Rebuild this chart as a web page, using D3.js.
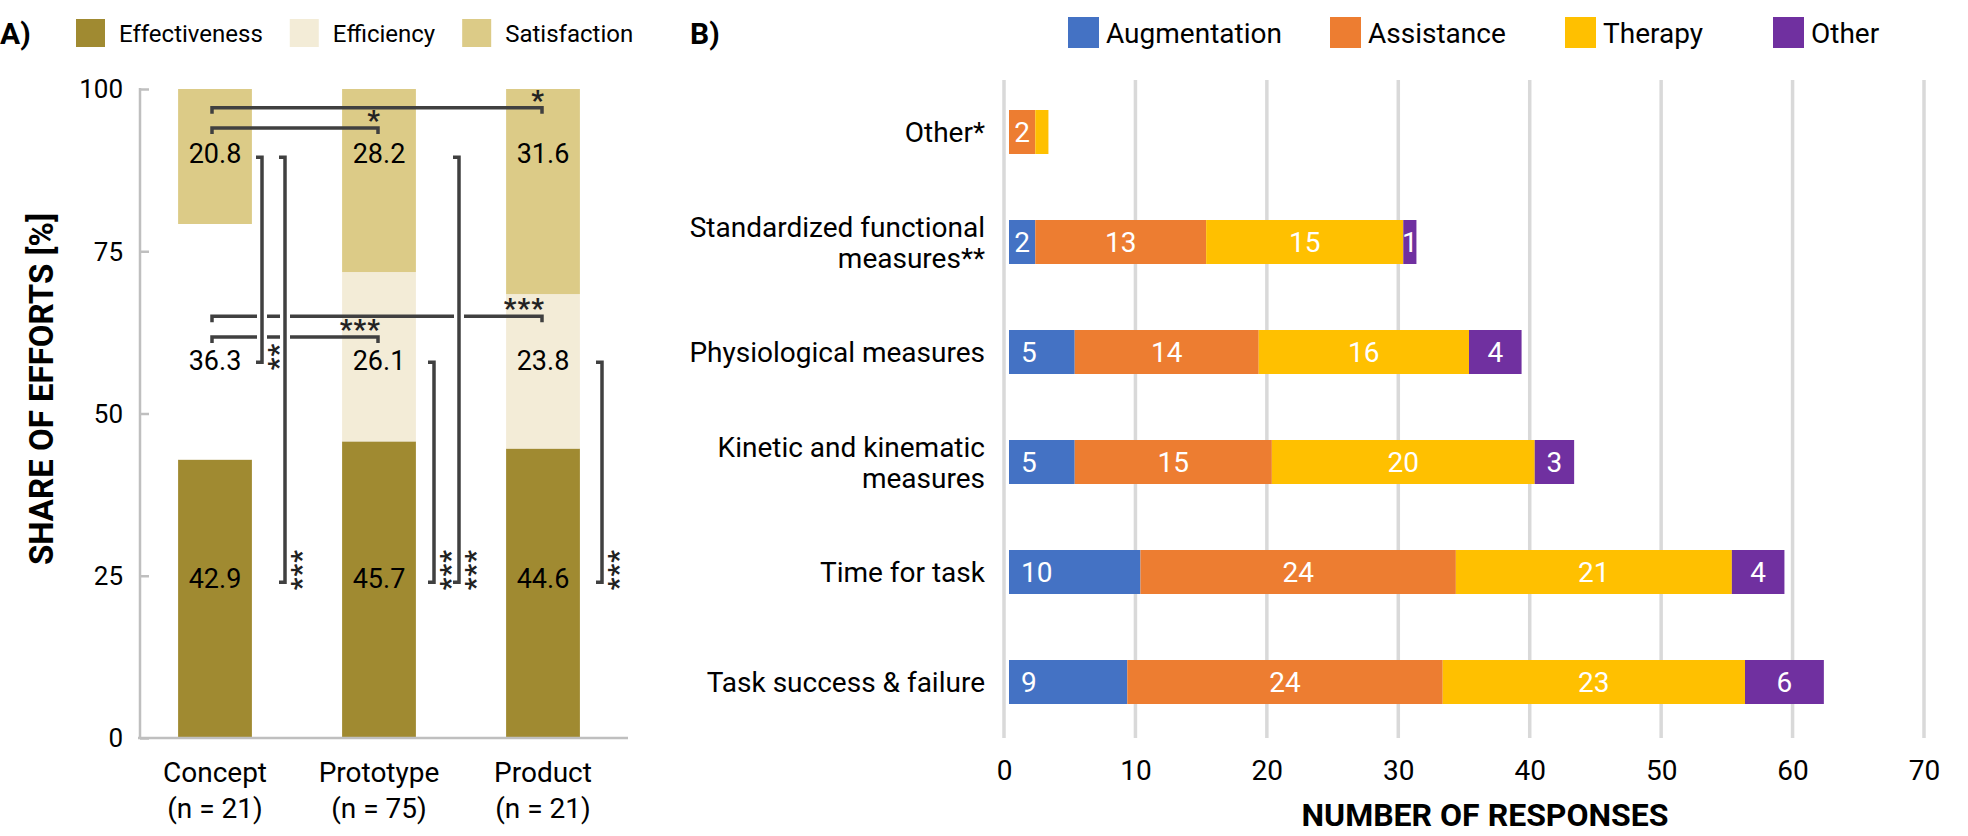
<!DOCTYPE html>
<html><head><meta charset="utf-8">
<script src="https://cdn.jsdelivr.net/npm/d3@7"></script>
<style>
body{margin:0;background:#fff;}
svg{display:block;font-family:Roboto,"DejaVu Sans",sans-serif;}
</style></head><body>
<svg id="chart" width="1968" height="836"></svg>
<script>
// ---------- Panel A data ----------
const stages = ["Concept", "Prototype", "Product"];
const stageN = ["(n = 21)", "(n = 75)", "(n = 21)"];
const dimensions = ["Effectiveness", "Efficiency", "Satisfaction"];
const effectiveness = [42.9, 45.7, 44.6];
const efficiency = [36.3, 26.1, 23.8];
const satisfaction = [20.8, 28.2, 31.6];
const yTicksA = [0, 25, 50, 75, 100];
const sigAcrossStages = [
  {dim: "Satisfaction", from: "Concept", to: "Product", stars: "*"},
  {dim: "Satisfaction", from: "Concept", to: "Prototype", stars: "*"},
  {dim: "Efficiency", from: "Concept", to: "Product", stars: "***"},
  {dim: "Efficiency", from: "Concept", to: "Prototype", stars: "***"}
];
const sigWithinStage = [
  {stage: "Concept", from: "Satisfaction", to: "Efficiency", stars: "**"},
  {stage: "Concept", from: "Satisfaction", to: "Effectiveness", stars: "***"},
  {stage: "Prototype", from: "Efficiency", to: "Effectiveness", stars: "***"},
  {stage: "Prototype", from: "Satisfaction", to: "Effectiveness", stars: "***"},
  {stage: "Product", from: "Efficiency", to: "Effectiveness", stars: "***"}
];

// ---------- Panel B data ----------
const measures = ["Other*", "Standardized functional measures**", "Physiological measures",
  "Kinetic and kinematic measures", "Time for task", "Task success & failure"];
const measureLines = [["Other*"], ["Standardized functional", "measures**"], ["Physiological measures"],
  ["Kinetic and kinematic", "measures"], ["Time for task"], ["Task success & failure"]];
const purposes = ["Augmentation", "Assistance", "Therapy", "Other"];
const augmentation = [0, 2, 5, 5, 10, 9];
const assistance = [2, 13, 14, 15, 24, 24];
const therapy = [1, 15, 16, 20, 21, 23];
const otherPurpose = [0, 1, 4, 3, 4, 6];
const xTicksB = [0, 10, 20, 30, 40, 50, 60, 70];
const unlabeled = [["Other*", "Therapy"]];

// ---------- styles / layout ----------
const colA = {Effectiveness: "#a08a31", Efficiency: "#f3ecd7", Satisfaction: "#dccb87"};
const blankSegment = [["Concept", "Efficiency"]];
const colB = {Augmentation: "#4472c4", Assistance: "#ed7d31", Therapy: "#ffc000", Other: "#7030a0"};
const labelLevel = {Satisfaction: 90.1, Efficiency: 58.2, Effectiveness: 24.6};
const bracketEnd = {Satisfaction: 89.5, Efficiency: 57.9, Effectiveness: 24.0};
const hLevels = [97.1, 94.0, 65.0, 61.8];
const vLanes = [47, 70, 55, 80, 59];
const ink = "#404040";

const svg = d3.select("#chart");

// ================= PANEL A =================
const xA = d3.scaleBand().domain(stages).range([133, 625]).paddingInner(0.55).paddingOuter(0.275);
const yA = d3.scaleLinear().domain([0, 100]).range([738, 89]);
const gA = svg.append("g");

gA.append("text").attr("x", 0).attr("y", 44).attr("font-weight", "bold").attr("font-size", 30).text("A)");

// legend A
let lx = 76;
dimensions.forEach(d => {
  gA.append("rect").attr("x", lx).attr("y", 19).attr("width", 29).attr("height", 28).attr("fill", colA[d]);
  const t = gA.append("text").attr("x", lx + 43).attr("y", 33).attr("dy", "0.36em")
    .attr("font-size", 24).text(d);
  lx += 43 + t.node().getComputedTextLength() + 27;
});

// stacked bars
const rowsA = stages.map((s, i) => ({stage: s, Effectiveness: effectiveness[i], Efficiency: efficiency[i], Satisfaction: satisfaction[i]}));
const stackA = d3.stack().keys(dimensions)(rowsA);
stackA.forEach(layer => {
  gA.selectAll(null).data(layer).enter().append("rect")
    .attr("x", d => xA(d.data.stage))
    .attr("width", xA.bandwidth())
    .attr("y", d => yA(d[1]))
    .attr("height", d => yA(d[0]) - yA(d[1]))
    .attr("fill", d => blankSegment.some(b => b[0] === d.data.stage && b[1] === layer.key) ? "#ffffff" : colA[layer.key]);
});

// axes A
const axA = gA.append("g").attr("transform", "translate(140,0)")
  .call(d3.axisRight(yA).tickValues(yTicksA).tickSize(9).tickFormat(""));
axA.select(".domain").remove();
axA.selectAll(".tick line").attr("stroke", "#bfbfbf").attr("stroke-width", 2.5);
gA.append("line").attr("x1", 140).attr("x2", 140).attr("y1", yA(100) - 1).attr("y2", yA(0)).attr("stroke", "#bfbfbf").attr("stroke-width", 2.5);
gA.append("line").attr("x1", 138).attr("x2", 628).attr("y1", yA(0)).attr("y2", yA(0)).attr("stroke", "#bfbfbf").attr("stroke-width", 2.5);
gA.selectAll(null).data(yTicksA).enter().append("text")
  .attr("x", 123).attr("y", d => yA(d)).attr("dy", "0.36em").attr("text-anchor", "end")
  .attr("font-size", 26).text(d => d);

stages.forEach((s, i) => {
  const cx = xA(s) + xA.bandwidth() / 2;
  gA.append("text").attr("x", cx).attr("y", 772).attr("dy", "0.36em").attr("text-anchor", "middle").attr("font-size", 28).text(s);
  gA.append("text").attr("x", cx).attr("y", 808).attr("dy", "0.36em").attr("text-anchor", "middle").attr("font-size", 28).text(stageN[i]);
});

gA.append("text").attr("transform", "translate(53,389) rotate(-90)").attr("text-anchor", "middle")
  .attr("font-weight", "bold").attr("font-size", 33).text("SHARE OF EFFORTS [%]");

// value labels
const valsA = {Effectiveness: effectiveness, Efficiency: efficiency, Satisfaction: satisfaction};
dimensions.forEach(d => {
  gA.selectAll(null).data(stages).enter().append("text")
    .attr("x", s => xA(s) + xA.bandwidth() / 2)
    .attr("y", yA(labelLevel[d])).attr("dy", "0.36em")
    .attr("text-anchor", "middle").attr("font-size", 27)
    .text((s, i) => valsA[d][i].toFixed(1));
});

// significance brackets across stages
const cxA = s => xA(s) + xA.bandwidth() / 2;
sigAcrossStages.forEach((b, i) => {
  const y = yA(hLevels[i]);
  const x1 = cxA(b.from) - 3, x2 = cxA(b.to) - 1;
  gA.append("path").attr("d", `M${x1},${y + 6}V${y}H${x2}V${y + 6}`)
    .attr("fill", "none").attr("stroke", ink).attr("stroke-width", 3.5);
  gA.append("text").attr("x", x2 + 3).attr("y", y + 2).attr("text-anchor", "end")
    .attr("font-size", 28).attr("font-weight", "bold").attr("letter-spacing", 1).attr("fill", "#222").text(b.stars);
});

// brackets within stages
sigWithinStage.forEach((b, i) => {
  const x = cxA(b.stage) + vLanes[i];
  const y1 = yA(bracketEnd[b.from]), y2 = yA(bracketEnd[b.to]);
  gA.append("line").attr("x1", x).attr("x2", x).attr("y1", y1 + 4).attr("y2", y2 - 4)
    .attr("stroke", "#fff").attr("stroke-width", 10);
  gA.append("path").attr("d", `M${x - 6},${y1}H${x}V${y2}H${x - 6}`)
    .attr("fill", "none").attr("stroke", ink).attr("stroke-width", 3.5);
  gA.append("text").attr("transform", `translate(${x + 26},${y2 + 8}) rotate(-90)`)
    .attr("font-size", 28).attr("font-weight", "bold").attr("letter-spacing", 1).attr("fill", "#222").text(b.stars);
});

// ================= PANEL B =================
const gB = svg.append("g");
const xB = d3.scaleLinear().domain([0, 70]).range([1004, 1924]);
const yB = d3.scaleBand().domain(measures).range([77, 737]).paddingInner(0.6).paddingOuter(0.3);
const barShift = 5;

gB.append("text").attr("x", 690).attr("y", 44).attr("font-weight", "bold").attr("font-size", 30).text("B)");

const legendBX = [1068, 1330, 1565, 1773];
purposes.forEach((p, i) => {
  gB.append("rect").attr("x", legendBX[i]).attr("y", 17).attr("width", 31).attr("height", 31).attr("fill", colB[p]);
  gB.append("text").attr("x", legendBX[i] + 38).attr("y", 33).attr("dy", "0.36em").attr("font-size", 28).text(p);
});

// gridlines
gB.selectAll(null).data(xTicksB).enter().append("line")
  .attr("x1", d => xB(d)).attr("x2", d => xB(d)).attr("y1", 80).attr("y2", 738)
  .attr("stroke", "#d9d9d9").attr("stroke-width", 3.5);

const axB = gB.append("g").attr("transform", "translate(0,770)")
  .call(d3.axisBottom(xB).tickValues(xTicksB).tickSize(0).tickPadding(0));
axB.select(".domain").remove();
axB.selectAll("text").attr("font-size", 28).attr("font-family", "Roboto").attr("fill", "#000").attr("dy", "0.36em");

const rowsB = measures.map((m, i) => ({measure: m, Augmentation: augmentation[i], Assistance: assistance[i], Therapy: therapy[i], Other: otherPurpose[i]}));
const stackB = d3.stack().keys(purposes)(rowsB);
const gBars = gB.append("g").attr("transform", `translate(${barShift},0)`);
stackB.forEach(layer => {
  gBars.selectAll(null).data(layer).enter().append("rect")
    .attr("x", d => xB(d[0])).attr("width", d => xB(d[1]) - xB(d[0]))
    .attr("y", d => yB(d.data.measure)).attr("height", yB.bandwidth())
    .attr("fill", colB[layer.key]);
});
stackB.forEach(layer => {
  layer.forEach(d => {
    const v = d[1] - d[0];
    if (v <= 0) return;
    if (unlabeled.some(u => u[0] === d.data.measure && u[1] === layer.key)) return;
    const t = gBars.append("text").attr("y", yB(d.data.measure) + yB.bandwidth() / 2).attr("dy", "0.36em")
      .attr("font-size", 28).attr("fill", "#fff").text(v);
    const w = xB(d[1]) - xB(d[0]);
    if (layer.key === "Augmentation") {
      const tw = t.node().getComputedTextLength();
      t.attr("x", xB(d[0]) + Math.min(12, (w - tw) / 2)).attr("text-anchor", "start");
    } else {
      t.attr("x", xB(d[0]) + w / 2).attr("text-anchor", "middle");
    }
  });
});

// category labels
measures.forEach((m, i) => {
  const lines = measureLines[i];
  const cy = yB(m) + yB.bandwidth() / 2;
  lines.forEach((ln, j) => {
    gB.append("text").attr("x", 985).attr("y", cy + (j - (lines.length - 1) / 2) * 31).attr("dy", "0.36em")
      .attr("text-anchor", "end").attr("font-size", 28).text(ln);
  });
});

gB.append("text").attr("x", 1485).attr("y", 826).attr("text-anchor", "middle")
  .attr("font-weight", "bold").attr("font-size", 32).text("NUMBER OF RESPONSES");
</script>
</body></html>
